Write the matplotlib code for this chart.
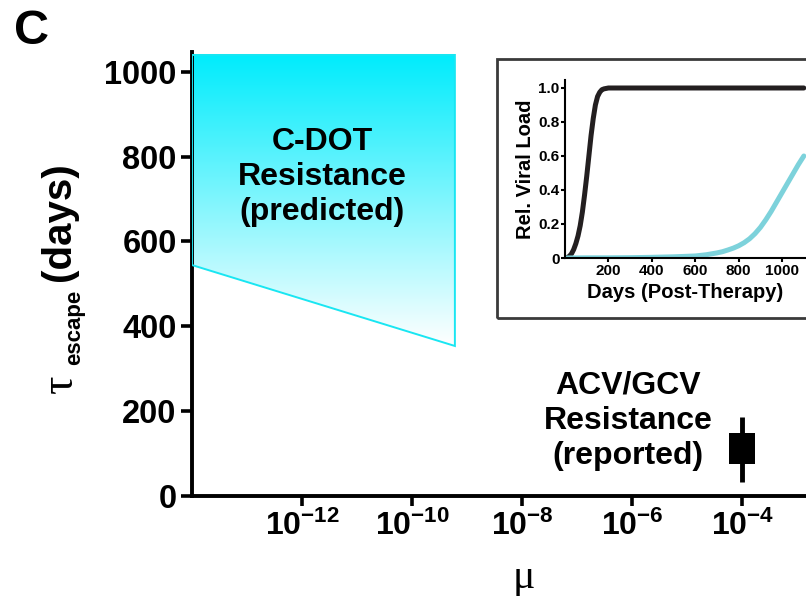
"""
Escape time vs mutation rate, with inset of relative viral load
"""

import numpy as np
import matplotlib.pyplot as plt
from matplotlib.patches import Polygon, Rectangle
from matplotlib.colors import LinearSegmentedColormap

plt.rcParams['font.family'] = ['Liberation Sans', 'DejaVu Sans']
plt.rcParams['font.weight'] = 'bold'
plt.rcParams['mathtext.fontset'] = 'custom'
plt.rcParams['mathtext.bf'] = 'Liberation Sans:bold'
plt.rcParams['mathtext.rm'] = 'Liberation Sans:bold'

# main panel axes
mu_ticks = [1e-12, 1e-10, 1e-8, 1e-6, 1e-4]
mu_ticklabels = [r'$\mathbf{10^{-12}}$', r'$\mathbf{10^{-10}}$', r'$\mathbf{10^{-8}}$',
                 r'$\mathbf{10^{-6}}$', r'$\mathbf{10^{-4}}$']
tau_ticks = [0, 200, 400, 600, 800, 1000]

# predicted C-DOT resistance region (corners)
cdot_mu = [1e-14, 6e-10, 6e-10, 1e-14]
cdot_tau = [544, 353, 1040, 1040]

# reported ACV/GCV resistance
acv_mu = 1e-4
acv_box = [75, 147]
acv_range = [32, 185]

# inset: relative viral load after therapy
days_black = [0, 10, 20, 30, 40, 50, 60, 70, 80, 90, 100, 110, 120, 130, 140,
              150, 160, 170, 180, 200, 1100]
load_black = [0.0, 0.003, 0.01, 0.025, 0.05, 0.085, 0.13, 0.19, 0.27, 0.37, 0.48,
              0.6, 0.72, 0.82, 0.9, 0.95, 0.975, 0.99, 0.995, 1.0, 1.0]
days_cyan = [0, 100, 200, 300, 400, 500, 600, 650, 700, 725, 750, 775, 800, 825,
             850, 875, 900, 925, 950, 975, 1000, 1025, 1050, 1075, 1100]
load_cyan = [0.0, 0.001, 0.001, 0.002, 0.004, 0.007, 0.012, 0.019, 0.03, 0.037,
             0.047, 0.058, 0.072, 0.09, 0.113, 0.143, 0.18, 0.225, 0.275, 0.33,
             0.385, 0.44, 0.495, 0.55, 0.6]
days_ticks = [200, 400, 600, 800, 1000]
load_ticks = [0, 0.2, 0.4, 0.6, 0.8, 1.0]
load_ticklabels = ['0', '0.2', '0.4', '0.6', '0.8', '1.0']

W, H = 806, 596
fig = plt.figure(figsize=(W / 100, H / 100), dpi=100)

ax = fig.add_axes([192 / W, 100.5 / H, 614 / W, 443.5 / H])
ax.set_xscale('log')

# gradient-filled polygon for the predicted region
poly = Polygon(list(zip(cdot_mu, cdot_tau)), closed=True, facecolor='none',
               edgecolor='#19e6f2', lw=1.4, zorder=3)
ax.add_patch(poly)
cmap = LinearSegmentedColormap.from_list('cdot', ['white', '#00ecfc'])
grad = np.linspace(1, 0, 256).reshape(-1, 1)
img = ax.imshow(grad, cmap=cmap, vmin=0, vmax=1, aspect='auto',
                extent=(min(cdot_mu), max(cdot_mu), min(cdot_tau), max(cdot_tau)),
                origin='upper', zorder=2)
img.set_clip_path(poly)

# reported point: box + range
ax.vlines(acv_mu, acv_range[0], acv_range[1], color='black', lw=3.5, zorder=4)
ax.fill_betweenx(acv_box, acv_mu * 10 ** -0.24, acv_mu * 10 ** 0.23,
                 color='black', lw=0, zorder=4)

ax.text(2.3e-12, 752, 'C-DOT\nResistance\n(predicted)', ha='center', va='center',
        fontsize=23, fontweight='bold', linespacing=1.22, zorder=5)
ax.text(8.5e-7, 177, 'ACV/GCV\nResistance\n(reported)', ha='center', va='center',
        fontsize=23, fontweight='bold', linespacing=1.22, zorder=5)

ax.set_xlim(1e-14, 10 ** -2.84)
ax.set_ylim(0, 1047)
ax.set_xticks(mu_ticks)
ax.set_xticklabels(mu_ticklabels)
ax.xaxis.set_minor_locator(plt.NullLocator())
ax.set_yticks(tau_ticks)
ax.tick_params(axis='both', labelsize=23.5, width=2.6, length=8, direction='out')
ax.tick_params(axis='y', pad=3)
ax.tick_params(axis='x', length=7, pad=4, labelsize=23)
for lab in ax.get_yticklabels():
    lab.set_fontweight('bold')
for side in ['top', 'right']:
    ax.spines[side].set_visible(False)
for side in ['left', 'bottom']:
    ax.spines[side].set_linewidth(2.8)

# axis labels built from pieces
fig.text(59 / W, 1 - 222 / H, '(days)', rotation=90, ha='center', va='center',
         fontsize=29, fontweight='bold')
fig.text(75 / W, 1 - 327 / H, 'escape', rotation=90, ha='center', va='center',
         fontsize=16, fontweight='bold')
fig.text(61 / W, 1 - 384 / H, '\u03c4', rotation=90, ha='center', va='center',
         fontsize=33, family='Liberation Serif', fontweight='normal')
fig.text(524 / W, 1 - 578 / H, '\u03bc', ha='center', va='center',
         fontsize=30, family='Liberation Serif', fontweight='normal')
fig.text(32 / W, 1 - 31 / H, 'C', ha='center', va='center',
         fontsize=35, fontweight='bold')

# inset frame
frame = Rectangle((497 / W, 1 - 318 / H), 0.5, (318 - 59) / H, transform=fig.transFigure,
                  fill=False, edgecolor='#3a3a3a', lw=2, clip_on=False)
fig.patches.append(frame)

axin = fig.add_axes([565 / W, 1 - 258 / H, (W - 565) / W, (258 - 80) / H])
axin.plot(days_black, load_black, color='#231f20', lw=3.6, solid_capstyle='round')
axin.plot(days_cyan, load_cyan, color='#7dd2db', lw=3.6, solid_capstyle='round')
axin.set_xlim(0, 1110)
axin.set_ylim(0, 1.047)
axin.set_xticks(days_ticks)
axin.set_yticks(load_ticks)
axin.set_yticklabels(load_ticklabels)
axin.tick_params(labelsize=11, width=1.5, length=3, pad=1)
for lab in axin.get_xticklabels() + axin.get_yticklabels():
    lab.set_fontweight('bold')
for side in ['top', 'right']:
    axin.spines[side].set_visible(False)
for side in ['left', 'bottom']:
    axin.spines[side].set_linewidth(1.5)
axin.set_xlabel('Days (Post-Therapy)', fontsize=14.5, fontweight='bold', labelpad=4)
axin.set_ylabel('Rel. Viral Load', fontsize=14.5, fontweight='bold', labelpad=2)

plt.savefig('out.png', dpi=100)
